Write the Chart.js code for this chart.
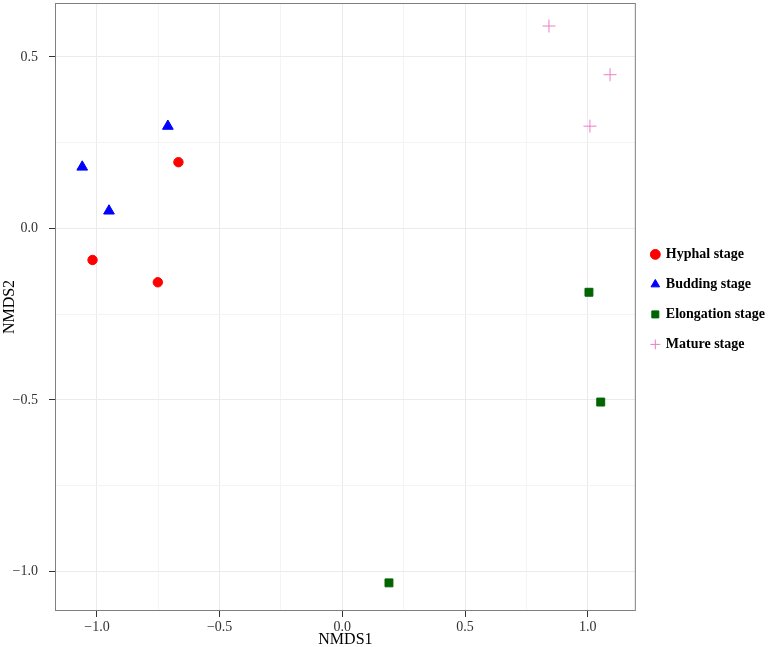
<!DOCTYPE html>
<html>
<head>
<meta charset="utf-8">
<script src="https://cdn.jsdelivr.net/npm/chart.js@4.4.0/dist/chart.umd.min.js"></script>
<style>
    html, body { margin: 0; padding: 0; background: #fff; }
    #wrap { width: 768px; height: 647px; }
</style>
</head>
<body>
<div id="wrap"><canvas id="nmdsChart" width="768" height="647"></canvas></div>
<script>
// NMDS ordination scores
const stageNames = ['Hyphal stage', 'Budding stage', 'Elongation stage', 'Mature stage'];
const hyphalX = [-1.018, -0.752, -0.668];
const hyphalY = [-0.092, -0.157, 0.193];
const buddingX = [-1.060, -0.951, -0.711];
const buddingY = [0.179, 0.051, 0.298];
const elongationX = [0.190, 1.005, 1.053];
const elongationY = [-1.033, -0.186, -0.506];
const matureX = [0.842, 1.091, 1.009];
const matureY = [0.590, 0.448, 0.298];
const xTickLabels = [-1.0, -0.5, 0.0, 0.5, 1.0];
const yTickLabels = [-1.0, -0.5, 0.0, 0.5];

Chart.defaults.font.family = '"Liberation Serif", "Times New Roman", serif';

function toPoints(xs, ys) {
    return xs.map((x, i) => ({ x: x, y: ys[i] }));
}

function isLabelled(v, list) {
    return list.some(t => Math.abs(t - v) < 1e-6);
}

function fmt(v) {
    const s = Math.abs(v).toFixed(1);
    return v < -1e-9 ? '\u2212' + s : s;
}

// panel frame (ggplot theme_bw style)
const panelBorder = {
    id: 'panelBorder',
    beforeDatasetsDraw(chart) {
        const a = chart.chartArea;
        const ctx = chart.ctx;
        ctx.save();
        ctx.strokeStyle = '#7f7f7f';
        ctx.lineWidth = 1;
        ctx.strokeRect(a.left + 0.5, a.top + 0.5, a.right - a.left - 1, a.bottom - a.top - 1);
        ctx.restore();
    }
};

function gridColor(list) {
    return ctx => {
        if (!ctx.tick) return 'transparent';
        return isLabelled(ctx.tick.value, list) ? '#ebebeb' : '#f4f4f4';
    };
}

function tickColor(list) {
    return ctx => (ctx.tick && isLabelled(ctx.tick.value, list)) ? '#333333' : 'transparent';
}

new Chart(document.getElementById('nmdsChart'), {
    type: 'scatter',
    data: {
        datasets: [
            {
                label: stageNames[0],
                data: toPoints(hyphalX, hyphalY),
                pointStyle: 'circle',
                pointRadius: 4.7,
                backgroundColor: '#ff0000',
                borderColor: '#ff0000',
                borderWidth: 1
            },
            {
                label: stageNames[1],
                data: toPoints(buddingX, buddingY),
                pointStyle: 'triangle',
                pointRadius: 6.2,
                backgroundColor: '#0000ff',
                borderColor: '#0000ff',
                borderWidth: 1
            },
            {
                label: stageNames[2],
                data: toPoints(elongationX, elongationY),
                pointStyle: 'rect',
                pointRadius: 5.6,
                backgroundColor: '#006400',
                borderColor: '#006400',
                borderWidth: 1
            },
            {
                label: stageNames[3],
                data: toPoints(matureX, matureY),
                pointStyle: 'cross',
                pointRadius: 6.5,
                backgroundColor: '#ea7fc4',
                borderColor: '#ea7fc4',
                borderWidth: 1
            }
        ]
    },
    options: {
        responsive: false,
        animation: false,
        layout: { autoPadding: false, padding: { top: 3, right: -7, bottom: -2, left: 0 } },
        plugins: {
            legend: {
                position: 'right',
                align: 'start',
                title: {
                    display: true,
                    text: ' ',
                    font: { size: 12 },
                    padding: { top: 214, bottom: 0 }
                },
                labels: {
                    usePointStyle: true,
                    boxWidth: 7,
                    boxHeight: 7,
                    padding: 16,
                    color: '#000',
                    font: { size: 14, weight: 'bold' }
                }
            },
            tooltip: { enabled: false }
        },
        scales: {
            x: {
                type: 'linear',
                min: -1.171,
                max: 1.196,
                afterFit: s => { s.height = 38; },
                ticks: {
                    stepSize: 0.25,
                    includeBounds: false,
                    autoSkip: false,
                    maxRotation: 0,
                    padding: 2,
                    color: '#333',
                    font: { size: 14 },
                    callback: v => isLabelled(v, xTickLabels) ? fmt(v) : ''
                },
                grid: {
                    color: gridColor(xTickLabels),
                    tickColor: tickColor(xTickLabels),
                    tickLength: 6
                },
                border: { display: false },
                title: {
                    display: true,
                    text: 'NMDS1',
                    color: '#000',
                    font: { size: 16 },
                    padding: { top: 0, bottom: 0 }
                }
            },
            y: {
                type: 'linear',
                min: -1.115,
                max: 0.657,
                afterFit: s => {
                    s.width = 55;
                    s.paddingTop = 0;
                    s.paddingBottom = 0;
                },
                ticks: {
                    stepSize: 0.25,
                    includeBounds: false,
                    autoSkip: false,
                    padding: 11,
                    color: '#333',
                    font: { size: 14 },
                    callback: v => isLabelled(v, yTickLabels) ? fmt(v) : ''
                },
                grid: {
                    color: gridColor(yTickLabels),
                    tickColor: tickColor(yTickLabels),
                    tickLength: 6
                },
                border: { display: false },
                title: {
                    display: true,
                    text: 'NMDS2',
                    color: '#000',
                    font: { size: 16 },
                    padding: { top: 0, bottom: 0 }
                }
            }
        }
    },
    plugins: [panelBorder]
});
</script>
</body>
</html>
